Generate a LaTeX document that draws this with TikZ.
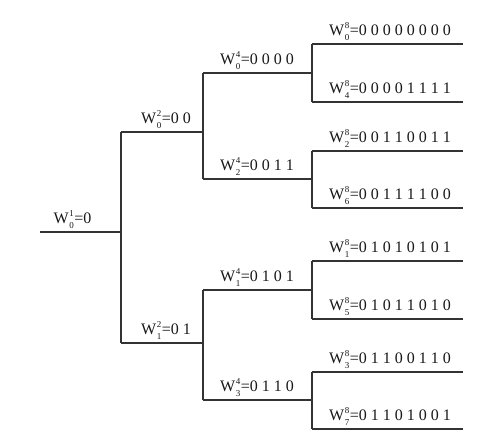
\documentclass[tikz,border=0pt]{standalone}
\usepackage{fontspec}
\setmainfont{Liberation Serif}
\newcommand\Wlab[3]{W\kern0.6pt\raisebox{-0.3em}{\vbox{\fontsize{9}{12}\selectfont\lineskiplimit=-20pt\hbox{#1}\hbox{#2}}}\kern0.6pt=#3}
\tikzset{
  wire/.style={draw=black!80, line width=1.2pt},
  lab/.style={anchor=base, inner sep=0pt, font=\fontsize{16}{16}\selectfont, text=black!90}
}
\begin{document}
\begin{tikzpicture}[x=1pt,y=-1pt]
\useasboundingbox[fill=white] (0,0) rectangle (504,443);
% horizontal segments: start/end coordinates
\coordinate (rs) at (40,232);  \coordinate (re) at (121,232);
\coordinate (a0s) at (121,132); \coordinate (a0e) at (203,132);
\coordinate (a1s) at (121,343); \coordinate (a1e) at (203,343);
\coordinate (b0s) at (203,73);  \coordinate (b0e) at (312,73);
\coordinate (b2s) at (203,179); \coordinate (b2e) at (312,179);
\coordinate (b1s) at (203,290); \coordinate (b1e) at (312,290);
\coordinate (b3s) at (203,400); \coordinate (b3e) at (312,400);
\coordinate (c0s) at (312,44);  \coordinate (c0e) at (463,44);
\coordinate (c4s) at (312,102); \coordinate (c4e) at (463,102);
\coordinate (c2s) at (312,151); \coordinate (c2e) at (463,151);
\coordinate (c6s) at (312,208); \coordinate (c6e) at (463,208);
\coordinate (c1s) at (312,261); \coordinate (c1e) at (463,261);
\coordinate (c5s) at (312,319); \coordinate (c5e) at (463,319);
\coordinate (c3s) at (312,372); \coordinate (c3e) at (463,372);
\coordinate (c7s) at (312,429); \coordinate (c7e) at (463,429);
% horizontals
\foreach \n in {r,a0,a1,b0,b1,b2,b3,c0,c1,c2,c3,c4,c5,c6,c7}
  \draw[wire] (\n s) -- (\n e);
% verticals
\draw[wire] (a0s) -- (a1s);
\draw[wire] (b0s) -- (b2s);
\draw[wire] (b1s) -- (b3s);
\draw[wire] (c0s) -- (c4s);
\draw[wire] (c2s) -- (c6s);
\draw[wire] (c1s) -- (c5s);
\draw[wire] (c3s) -- (c7s);
% labels
\node[lab] (lr) at (72.5,223.5) {\Wlab{1}{0}{0}};
\node[lab] (la0) at (166,123.5) {\Wlab{2}{0}{0 0}};
\node[lab] (la1) at (166,334.5) {\Wlab{2}{1}{0 1}};
\node[lab] (lb0) at (257,64.5) {\Wlab{4}{0}{0 0 0 0}};
\node[lab] (lb2) at (257,170.5) {\Wlab{4}{2}{0 0 1 1}};
\node[lab] (lb1) at (257,281.5) {\Wlab{4}{1}{0 1 0 1}};
\node[lab] (lb3) at (257,391.5) {\Wlab{4}{3}{0 1 1 0}};
\node[lab] (lc0) at (390,35.5) {\Wlab{8}{0}{0 0 0 0 0 0 0 0}};
\node[lab] (lc4) at (390,93.5) {\Wlab{8}{4}{0 0 0 0 1 1 1 1}};
\node[lab] (lc2) at (390,142.5) {\Wlab{8}{2}{0 0 1 1 0 0 1 1}};
\node[lab] (lc6) at (390,199.5) {\Wlab{8}{6}{0 0 1 1 1 1 0 0}};
\node[lab] (lc1) at (390,252.5) {\Wlab{8}{1}{0 1 0 1 0 1 0 1}};
\node[lab] (lc5) at (390,310.5) {\Wlab{8}{5}{0 1 0 1 1 0 1 0}};
\node[lab] (lc3) at (390,363.5) {\Wlab{8}{3}{0 1 1 0 0 1 1 0}};
\node[lab] (lc7) at (390,420.5) {\Wlab{8}{7}{0 1 1 0 1 0 0 1}};
\end{tikzpicture}
\end{document}
